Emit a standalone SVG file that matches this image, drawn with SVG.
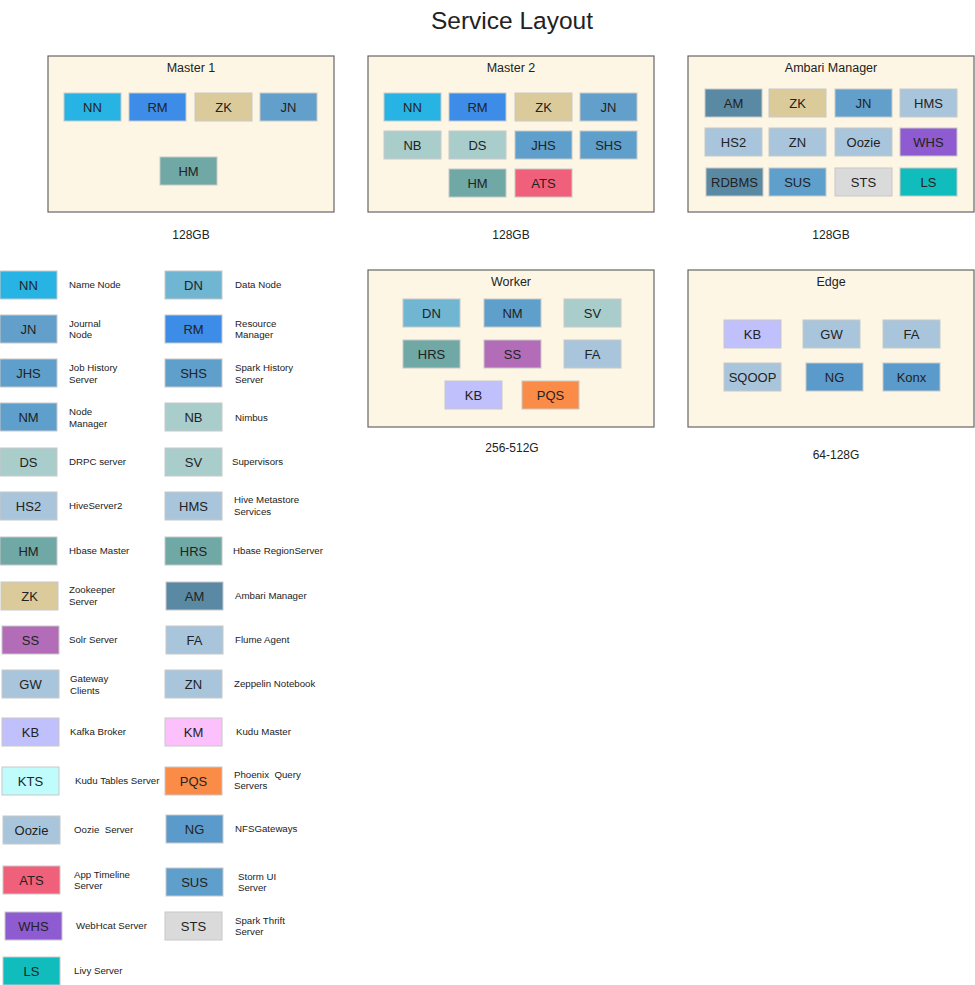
<svg xmlns="http://www.w3.org/2000/svg" width="975" height="985" viewBox="0 0 975 985">
<style>
text{font-family:"Liberation Sans",Arial,sans-serif;fill:#222;white-space:pre}
.title{font-size:24.5px;text-anchor:middle}
.box{fill:#fdf6e5;stroke:#666;stroke-width:1.2}
.bt{font-size:12.5px;text-anchor:middle}
.mem{font-size:12px;text-anchor:middle}
.t{stroke:#c8c8c8;stroke-width:1}
.tt{font-size:13px;text-anchor:middle}
.lg{font-size:9.7px}
.NN{fill:#27b4e5}.RM{fill:#3c8ce8}.ZK{fill:#dccb9a}.JN{fill:#62a0cb}.HM{fill:#6fa8a4}
.NB{fill:#a9cdcb}.JHS{fill:#5f9fcc}.ATS{fill:#f0607a}.AM{fill:#5a89a3}.HMS{fill:#a8c5dc}
.WHS{fill:#8f5bd0}.STS{fill:#dadada}.LS{fill:#10bcbc}.DN{fill:#70b5d2}.SS{fill:#b36db8}
.KB{fill:#c0c0fc}.PQS{fill:#fb8c48}.NG{fill:#5b9bcb}.KM{fill:#fcc0fc}.KTS{fill:#c0fcfc}
</style>
<rect width="975" height="985" fill="#fff"/>
<text class="title" x="512" y="29">Service Layout</text>

<g id="master1">
<rect class="box" x="48" y="56" width="286" height="156"/>
<text class="bt" x="191" y="72">Master 1</text>
<rect class="t NN" x="64" y="93" width="57" height="28"/><text class="tt" x="92.5" y="111.5">NN</text>
<rect class="t RM" x="129" y="93" width="57" height="28"/><text class="tt" x="157.5" y="111.5">RM</text>
<rect class="t ZK" x="195" y="93" width="57" height="28"/><text class="tt" x="223.5" y="111.5">ZK</text>
<rect class="t JN" x="260" y="93" width="57" height="28"/><text class="tt" x="288.5" y="111.5">JN</text>
<rect class="t HM" x="160" y="157" width="57" height="28"/><text class="tt" x="188.5" y="175.5">HM</text>
<text class="mem" x="191" y="239">128GB</text>
</g>

<g id="master2">
<rect class="box" x="368" y="56" width="286" height="156"/>
<text class="bt" x="511" y="72">Master 2</text>
<rect class="t NN" x="384" y="93" width="57" height="28"/><text class="tt" x="412.5" y="111.5">NN</text>
<rect class="t RM" x="449" y="93" width="57" height="28"/><text class="tt" x="477.5" y="111.5">RM</text>
<rect class="t ZK" x="515" y="93" width="57" height="28"/><text class="tt" x="543.5" y="111.5">ZK</text>
<rect class="t JN" x="580" y="93" width="57" height="28"/><text class="tt" x="608.5" y="111.5">JN</text>
<rect class="t NB" x="384" y="131" width="57" height="28"/><text class="tt" x="412.5" y="149.5">NB</text>
<rect class="t NB" x="449" y="131" width="57" height="28"/><text class="tt" x="477.5" y="149.5">DS</text>
<rect class="t JHS" x="515" y="131" width="57" height="28"/><text class="tt" x="543.5" y="149.5">JHS</text>
<rect class="t JHS" x="580" y="131" width="57" height="28"/><text class="tt" x="608.5" y="149.5">SHS</text>
<rect class="t HM" x="449" y="169" width="57" height="28"/><text class="tt" x="477.5" y="187.5">HM</text>
<rect class="t ATS" x="515" y="169" width="57" height="28"/><text class="tt" x="543.5" y="187.5">ATS</text>
<text class="mem" x="511" y="239">128GB</text>
</g>

<g id="ambari">
<rect class="box" x="688" y="56" width="286" height="156"/>
<text class="bt" x="831" y="72">Ambari Manager</text>
<rect class="t AM" x="705" y="89" width="57" height="28"/><text class="tt" x="733.5" y="107.5">AM</text>
<rect class="t ZK" x="769" y="89" width="57" height="28"/><text class="tt" x="797.5" y="107.5">ZK</text>
<rect class="t JN" x="835" y="89" width="57" height="28"/><text class="tt" x="863.5" y="107.5">JN</text>
<rect class="t HMS" x="900" y="89" width="57" height="28"/><text class="tt" x="928.5" y="107.5">HMS</text>
<rect class="t HMS" x="705" y="128" width="57" height="28"/><text class="tt" x="733.5" y="146.5">HS2</text>
<rect class="t HMS" x="769" y="128" width="57" height="28"/><text class="tt" x="797.5" y="146.5">ZN</text>
<rect class="t HMS" x="835" y="128" width="57" height="28"/><text class="tt" x="863.5" y="146.5">Oozie</text>
<rect class="t WHS" x="900" y="128" width="57" height="28"/><text class="tt" x="928.5" y="146.5">WHS</text>
<rect class="t AM" x="706" y="168" width="57" height="28"/><text class="tt" x="734.5" y="186.5">RDBMS</text>
<rect class="t JHS" x="769" y="168" width="57" height="28"/><text class="tt" x="797.5" y="186.5">SUS</text>
<rect class="t STS" x="835" y="168" width="57" height="28"/><text class="tt" x="863.5" y="186.5">STS</text>
<rect class="t LS" x="900" y="168" width="57" height="28"/><text class="tt" x="928.5" y="186.5">LS</text>
<text class="mem" x="831" y="239">128GB</text>
</g>

<g id="worker">
<rect class="box" x="368" y="270" width="286" height="157"/>
<text class="bt" x="511" y="286">Worker</text>
<rect class="t DN" x="403" y="299" width="57" height="28"/><text class="tt" x="431.5" y="317.5">DN</text>
<rect class="t JHS" x="484" y="299" width="57" height="28"/><text class="tt" x="512.5" y="317.5">NM</text>
<rect class="t NB" x="564" y="299" width="57" height="28"/><text class="tt" x="592.5" y="317.5">SV</text>
<rect class="t HM" x="403" y="340" width="57" height="28"/><text class="tt" x="431.5" y="358.5">HRS</text>
<rect class="t SS" x="484" y="340" width="57" height="28"/><text class="tt" x="512.5" y="358.5">SS</text>
<rect class="t HMS" x="564" y="340" width="57" height="28"/><text class="tt" x="592.5" y="358.5">FA</text>
<rect class="t KB" x="445" y="381" width="57" height="28"/><text class="tt" x="473.5" y="399.5">KB</text>
<rect class="t PQS" x="522" y="381" width="57" height="28"/><text class="tt" x="550.5" y="399.5">PQS</text>
<text class="mem" x="512" y="452">256-512G</text>
</g>

<g id="edge">
<rect class="box" x="688" y="270" width="286" height="157"/>
<text class="bt" x="831" y="286">Edge</text>
<rect class="t KB" x="724" y="320" width="57" height="28"/><text class="tt" x="752.5" y="338.5">KB</text>
<rect class="t HMS" x="803" y="320" width="57" height="28"/><text class="tt" x="831.5" y="338.5">GW</text>
<rect class="t HMS" x="883" y="320" width="57" height="28"/><text class="tt" x="911.5" y="338.5">FA</text>
<rect class="t HMS" x="724" y="363" width="57" height="28"/><text class="tt" x="752.5" y="381.5">SQOOP</text>
<rect class="t NG" x="806" y="363" width="57" height="28"/><text class="tt" x="834.5" y="381.5">NG</text>
<rect class="t NG" x="883" y="363" width="57" height="28"/><text class="tt" x="911.5" y="381.5">Konx</text>
<text class="mem" x="836" y="459">64-128G</text>
</g>

<g id="legend-left">
<g id="lg-NN"><rect class="t NN" x="0" y="271" width="57" height="28"/><text class="tt" x="28.5" y="289.5">NN</text><text class="lg" x="69" y="288">Name Node</text></g>
<g id="lg-JN"><rect class="t JN" x="0" y="315" width="57" height="28"/><text class="tt" x="28.5" y="333.5">JN</text><text class="lg" x="69" y="326.5">Journal</text><text class="lg" x="69" y="338">Node</text></g>
<g id="lg-JHS"><rect class="t JHS" x="0" y="359" width="57" height="28"/><text class="tt" x="28.5" y="377.5">JHS</text><text class="lg" x="69" y="371">Job History</text><text class="lg" x="69" y="382.5">Server</text></g>
<g id="lg-NM"><rect class="t JHS" x="0" y="403" width="57" height="28"/><text class="tt" x="28.5" y="421.5">NM</text><text class="lg" x="69" y="415">Node</text><text class="lg" x="69" y="426.5">Manager</text></g>
<g id="lg-DS"><rect class="t NB" x="0" y="448" width="57" height="28"/><text class="tt" x="28.5" y="466.5">DS</text><text class="lg" x="69" y="465">DRPC server</text></g>
<g id="lg-HS2"><rect class="t HMS" x="0" y="492" width="57" height="28"/><text class="tt" x="28.5" y="510.5">HS2</text><text class="lg" x="69" y="509">HiveServer2</text></g>
<g id="lg-HM"><rect class="t HM" x="0" y="537" width="57" height="28"/><text class="tt" x="28.5" y="555.5">HM</text><text class="lg" x="69" y="554">Hbase Master</text></g>
<g id="lg-ZK"><rect class="t ZK" x="1" y="582" width="57" height="28"/><text class="tt" x="29.5" y="600.5">ZK</text><text class="lg" x="69" y="593">Zookeeper</text><text class="lg" x="69" y="604.5">Server</text></g>
<g id="lg-SS"><rect class="t SS" x="2" y="626" width="57" height="28"/><text class="tt" x="30.5" y="644.5">SS</text><text class="lg" x="69" y="643">Solr Server</text></g>
<g id="lg-GW"><rect class="t HMS" x="2" y="670" width="57" height="28"/><text class="tt" x="30.5" y="688.5">GW</text><text class="lg" x="70" y="682">Gateway</text><text class="lg" x="70" y="693.5">Clients</text></g>
<g id="lg-KB"><rect class="t KB" x="2" y="718" width="57" height="28"/><text class="tt" x="30.5" y="736.5">KB</text><text class="lg" x="70" y="735">Kafka Broker</text></g>
<g id="lg-KTS"><rect class="t KTS" x="2" y="767" width="57" height="28"/><text class="tt" x="30.5" y="785.5">KTS</text><text class="lg" x="75" y="784">Kudu Tables Server</text></g>
<g id="lg-Oozie"><rect class="t HMS" x="3" y="816" width="57" height="28"/><text class="tt" x="31.5" y="834.5">Oozie</text><text class="lg" x="74" y="833" xml:space="preserve">Oozie  Server</text></g>
<g id="lg-ATS"><rect class="t ATS" x="3" y="866" width="57" height="28"/><text class="tt" x="31.5" y="884.5">ATS</text><text class="lg" x="74" y="877.5">App Timeline</text><text class="lg" x="74" y="889">Server</text></g>
<g id="lg-WHS"><rect class="t WHS" x="5" y="912" width="57" height="28"/><text class="tt" x="33.5" y="930.5">WHS</text><text class="lg" x="76" y="929">WebHcat Server</text></g>
<g id="lg-LS"><rect class="t LS" x="3" y="957" width="57" height="28"/><text class="tt" x="31.5" y="975.5">LS</text><text class="lg" x="74" y="974">Livy Server</text></g>
</g>

<g id="legend-right">
<g id="lg-DN"><rect class="t DN" x="165" y="271" width="57" height="28"/><text class="tt" x="193.5" y="289.5">DN</text><text class="lg" x="235" y="288">Data Node</text></g>
<g id="lg-RM"><rect class="t RM" x="165" y="315" width="57" height="28"/><text class="tt" x="193.5" y="333.5">RM</text><text class="lg" x="235" y="326.5">Resource</text><text class="lg" x="235" y="338">Manager</text></g>
<g id="lg-SHS"><rect class="t JHS" x="165" y="359" width="57" height="28"/><text class="tt" x="193.5" y="377.5">SHS</text><text class="lg" x="235" y="371">Spark History</text><text class="lg" x="235" y="382.5">Server</text></g>
<g id="lg-NB"><rect class="t NB" x="165" y="403" width="57" height="28"/><text class="tt" x="193.5" y="421.5">NB</text><text class="lg" x="235" y="421">Nimbus</text></g>
<g id="lg-SV"><rect class="t NB" x="165" y="448" width="57" height="28"/><text class="tt" x="193.5" y="466.5">SV</text><text class="lg" x="232" y="465">Supervisors</text></g>
<g id="lg-HMS"><rect class="t HMS" x="165" y="492" width="57" height="28"/><text class="tt" x="193.5" y="510.5">HMS</text><text class="lg" x="234" y="503">Hive Metastore</text><text class="lg" x="234" y="514.5">Services</text></g>
<g id="lg-HRS"><rect class="t HM" x="165" y="537" width="57" height="28"/><text class="tt" x="193.5" y="555.5">HRS</text><text class="lg" x="233" y="554">Hbase RegionServer</text></g>
<g id="lg-AM"><rect class="t AM" x="166" y="582" width="57" height="28"/><text class="tt" x="194.5" y="600.5">AM</text><text class="lg" x="235" y="599">Ambari Manager</text></g>
<g id="lg-FA"><rect class="t HMS" x="166" y="626" width="57" height="28"/><text class="tt" x="194.5" y="644.5">FA</text><text class="lg" x="235" y="643">Flume Agent</text></g>
<g id="lg-ZN"><rect class="t HMS" x="165" y="670" width="57" height="28"/><text class="tt" x="193.5" y="688.5">ZN</text><text class="lg" x="234" y="687">Zeppelin Notebook</text></g>
<g id="lg-KM"><rect class="t KM" x="165" y="718" width="57" height="28"/><text class="tt" x="193.5" y="736.5">KM</text><text class="lg" x="236" y="735">Kudu Master</text></g>
<g id="lg-PQS"><rect class="t PQS" x="165" y="767" width="57" height="28"/><text class="tt" x="193.5" y="785.5">PQS</text><text class="lg" x="234" y="777.5" xml:space="preserve">Phoenix  Query</text><text class="lg" x="234" y="789">Servers</text></g>
<g id="lg-NG"><rect class="t NG" x="166" y="815" width="57" height="28"/><text class="tt" x="194.5" y="833.5">NG</text><text class="lg" x="235" y="832">NFSGateways</text></g>
<g id="lg-SUS"><rect class="t JHS" x="166" y="868" width="57" height="28"/><text class="tt" x="194.5" y="886.5">SUS</text><text class="lg" x="238" y="879.5">Storm UI</text><text class="lg" x="238" y="891">Server</text></g>
<g id="lg-STS"><rect class="t STS" x="165" y="912" width="57" height="28"/><text class="tt" x="193.5" y="930.5">STS</text><text class="lg" x="235" y="923.5">Spark Thrift</text><text class="lg" x="235" y="935">Server</text></g>
</g>

<g id="connectors"/>
</svg>
